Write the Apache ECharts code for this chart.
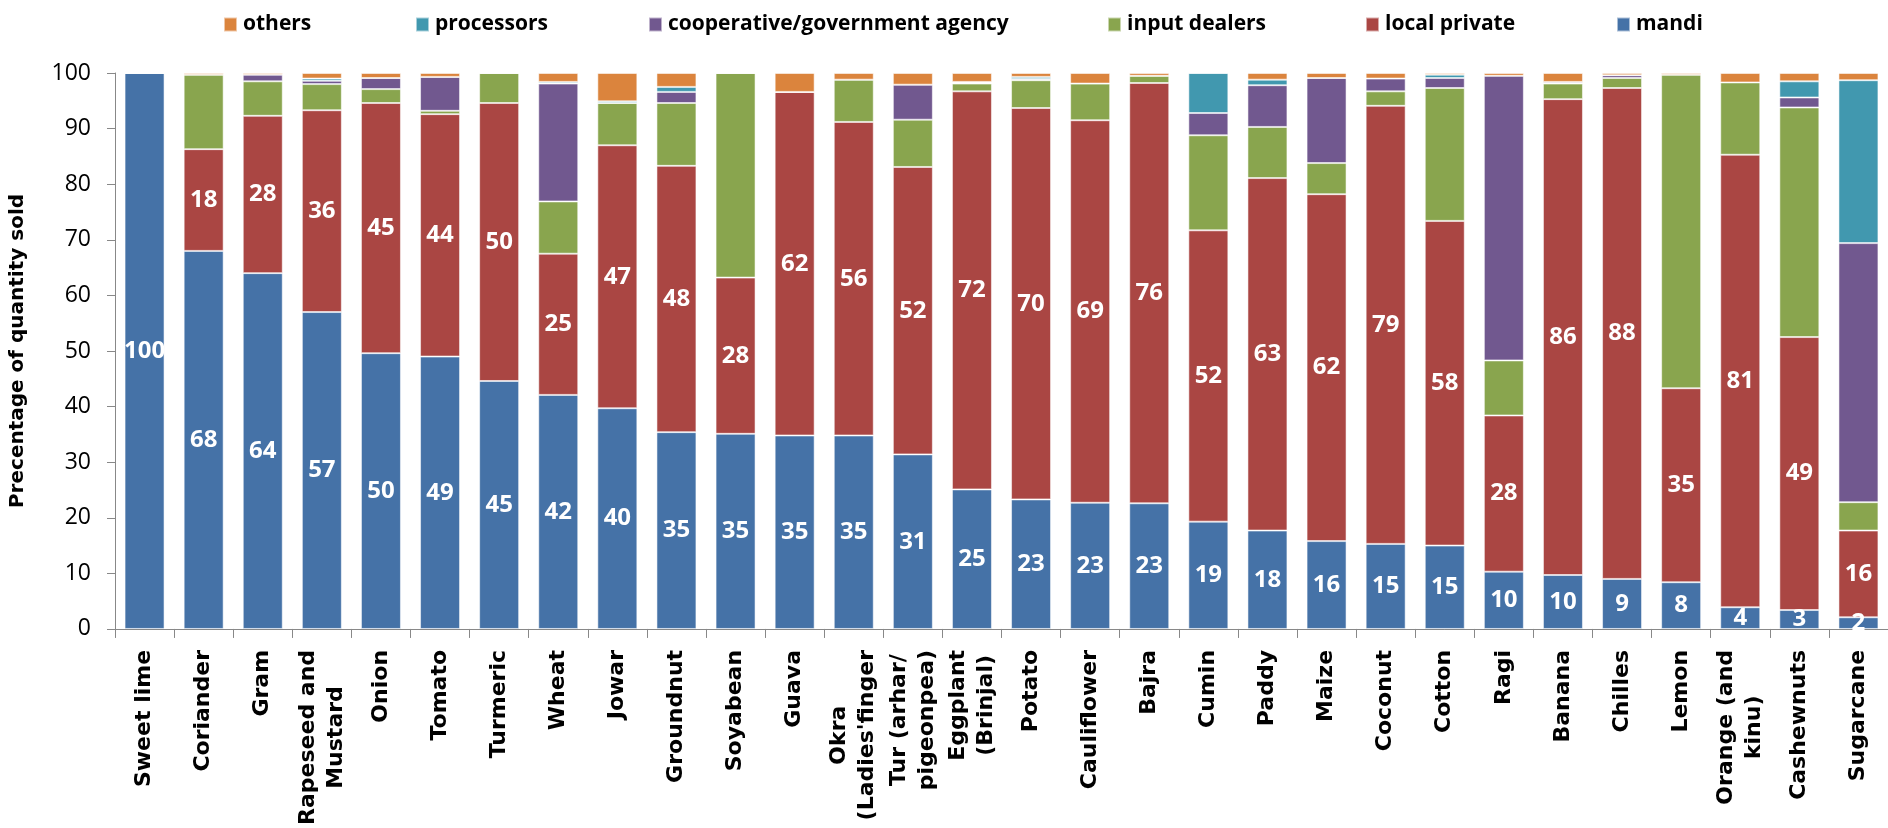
<!DOCTYPE html>
<html>
<head>
<meta charset="utf-8">
<script src="https://cdn.jsdelivr.net/npm/echarts@6/dist/echarts.min.js"></script>
<style>
html,body{margin:0;padding:0;background:#fff;}
#chart{width:1888px;height:828px;}
</style>
</head>
<body>
<div id="chart"></div>
<script>
const categories = ['Sweet lime','Coriander','Gram','Rapeseed and\nMustard','Onion','Tomato','Turmeric','Wheat','Jowar','Groundnut',
  'Soyabean','Guava','Okra\n(Ladies\'finger','Tur (arhar/\npigeonpea)','Eggplant\n(Brinjal)','Potato','Cauliflower','Bajra','Cumin','Paddy',
  'Maize','Coconut','Cotton','Ragi','Banana','Chilles','Lemon','Orange (and\nkinu)','Cashewnuts','Sugarcane'];

const mandi        = [100,68.0,64.0,57.0,49.6,49.0,44.6,42.1,39.7,35.4,35.1,34.8,34.8,31.4,25.1,23.3,22.7,22.6,19.3,17.7,15.8,15.3,15.0,10.3,9.7,9.0,8.4,3.9,3.4,2.1];
const localPrivate = [0,18.3,28.3,36.3,45.0,43.6,50.0,25.4,47.3,47.9,28.1,61.8,56.4,51.7,71.6,70.4,68.8,75.6,52.4,63.4,62.4,78.8,58.4,28.1,85.6,88.3,34.9,81.4,49.1,15.6];
const inputDealers = [0,13.4,6.2,4.7,2.5,0.6,5.4,9.4,7.6,11.3,36.8,0,7.6,8.5,1.4,5.0,6.6,1.3,17.1,9.2,5.6,2.6,23.9,9.9,2.8,1.8,56.4,13.0,41.3,5.1];
const cooperative  = [0,0,1.2,0.6,2.0,6.1,0,21.2,0,2.0,0,0,0,6.3,0.2,0.2,0,0,4.0,7.5,15.3,2.3,1.8,51.2,0.3,0.5,0,0,1.8,46.6];
const processors   = [0,0,0,0.4,0,0,0,0.3,0.3,0.9,0,0,0,0,0.1,0.4,0,0,7.2,1.0,0,0,0.6,0,0,0,0,0,2.9,29.3];
const others       = [0,0.3,0.3,1.0,0.9,0.7,0,1.6,5.1,2.5,0,3.4,1.2,2.1,1.6,0.7,1.9,0.5,0,1.2,0.9,1.0,0.3,0.5,1.6,0.4,0.3,1.7,1.5,1.3];

const yTicks = [0,10,20,30,40,50,60,70,80,90,100];

const seriesNames = ['mandi','local private','input dealers','cooperative/government agency','processors','others'];
const seriesData = [mandi, localPrivate, inputDealers, cooperative, processors, others];
const colors = ['#4572A7','#AA4643','#89A54E','#71588F','#4198AF','#DB843D'];
const labelled = [true, true, false, false, false, false];

const sans = '"Open Sans","Liberation Sans",sans-serif';
const boldSans = '"DejaVu Sans",Verdana,sans-serif';

const legendOrder = ['others','processors','cooperative/government agency','input dealers','local private','mandi'];
const legendLeft = [218, 410, 643, 1102, 1360, 1611];

const chart = echarts.init(document.getElementById('chart'));
chart.setOption({
  animation: false,
  color: colors,
  legend: legendOrder.map((n, i) => ({
    data: [n],
    left: legendLeft[i],
    top: 9,
    icon: 'rect',
    itemWidth: 13,
    itemHeight: 14,
    itemGap: 0,
    selectedMode: false,
    textStyle: {fontFamily: sans, fontWeight: 'bold', fontSize: 21, color: '#000', padding: [0,0,0,1]}
  })),
  grid: {left: 111, top: 73, width: 1788, height: 564, containLabel: false},
  xAxis: {
    type: 'category',
    data: categories,
    axisLine: {lineStyle: {color: '#888', width: 1}},
    axisTick: {show: true, interval: 0, length: 9, lineStyle: {color: '#888'}},
    axisLabel: {
      interval: 0, rotate: 90, margin: 21,
      fontFamily: boldSans, fontWeight: 'bold', fontSize: 22, color: '#000', lineHeight: 28,
      formatter: v => v.split('\n').map(s => '{c|' + s + '}').join('\n'),
      rich: {
        c: {align: 'center', fontFamily: boldSans, fontWeight: 'bold', fontSize: 22, lineHeight: 28, color: '#000'}
      }
    }
  },
  yAxis: {
    type: 'value', min: 0, max: 100, interval: 10,
    name: 'Precentage of quantity sold',
    nameLocation: 'middle', nameGap: 87,
    nameTextStyle: {fontFamily: boldSans, fontWeight: 'bold', fontSize: 20, color: '#000'},
    axisLine: {show: true, lineStyle: {color: '#888', width: 1}},
    axisTick: {show: true, length: 8, lineStyle: {color: '#888'}},
    splitLine: {show: false},
    axisLabel: {
      fontFamily: sans, fontSize: 23, color: '#000', margin: 24,
      formatter: v => yTicks.includes(v) ? String(v) : ''
    }
  },
  series: seriesNames.map((n, i) => ({
    name: n,
    type: 'bar',
    stack: 'total',
    barWidth: 40,
    data: seriesData[i],
    itemStyle: {color: colors[i], borderColor: 'rgba(255,255,255,0.55)', borderWidth: 1},
    label: {
      show: labelled[i],
      position: 'inside',
      color: '#fff',
      fontFamily: sans,
      fontWeight: 'bold',
      fontSize: 24,
      formatter: p => p.value > 0 ? String(Math.round(p.value)) : ''
    }
  }))
});
</script>
</body>
</html>
